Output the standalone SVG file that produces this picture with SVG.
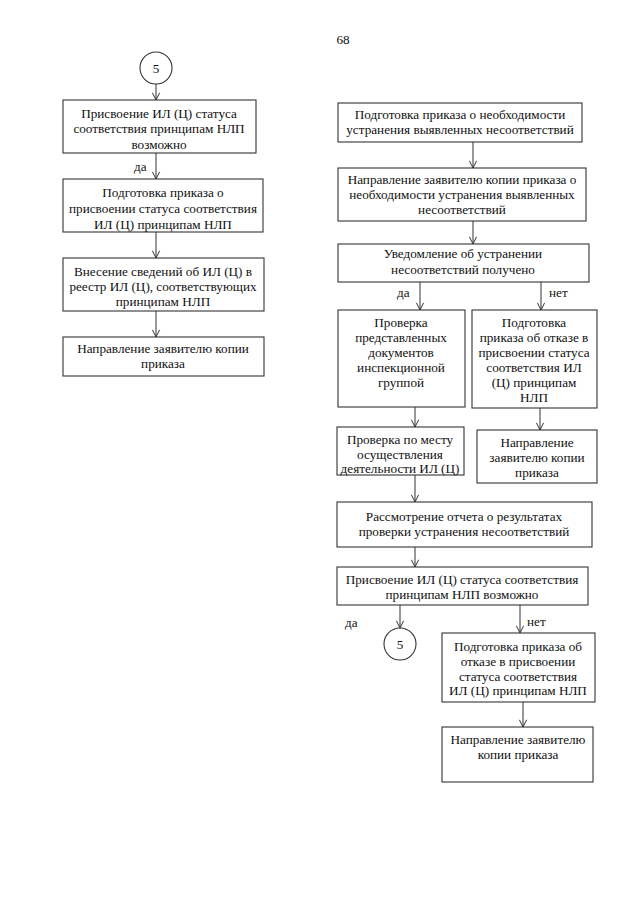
<svg xmlns="http://www.w3.org/2000/svg" width="640" height="905" viewBox="0 0 640 905" font-family="'Liberation Serif', 'Times New Roman', serif">
<defs>
<style>
text{font-family:'Liberation Serif','Times New Roman',serif;font-size:13.2px;fill:#111;text-anchor:middle}
.lbl{text-anchor:start}
rect,circle{fill:#fff;stroke:#333;stroke-width:1.1}
.c line{stroke:#333;stroke-width:1}
</style>
<marker id="a" viewBox="0 0 10 10" refX="9" refY="5" markerWidth="9" markerHeight="9" markerUnits="userSpaceOnUse" orient="auto">
<path d="M1,1 L9,5 L1,9" fill="none" stroke="#333" stroke-width="1.1"/>
</marker>
</defs>
<rect x="0" y="0" width="640" height="905" style="fill:#fff;stroke:none"/>
<text x="343" y="44">68</text>

<g class="c" id="connectors">
<line x1="156" y1="84" x2="156" y2="100" marker-end="url(#a)"/>
<line x1="156" y1="153" x2="156" y2="179" marker-end="url(#a)"/>
<line x1="156" y1="232" x2="156" y2="258" marker-end="url(#a)"/>
<line x1="156" y1="311" x2="156" y2="337" marker-end="url(#a)"/>
<line x1="473" y1="142" x2="473" y2="168" marker-end="url(#a)"/>
<line x1="473" y1="221" x2="473" y2="244" marker-end="url(#a)"/>
<line x1="420" y1="282" x2="420" y2="310" marker-end="url(#a)"/>
<line x1="541" y1="282" x2="541" y2="310" marker-end="url(#a)"/>
<line x1="415" y1="407" x2="415" y2="427" marker-end="url(#a)"/>
<line x1="540" y1="408" x2="540" y2="430" marker-end="url(#a)"/>
<line x1="415" y1="475" x2="415" y2="502" marker-end="url(#a)"/>
<line x1="415" y1="547" x2="415" y2="567" marker-end="url(#a)"/>
<line x1="400" y1="605" x2="400" y2="628" marker-end="url(#a)"/>
<line x1="520" y1="605" x2="520" y2="633" marker-end="url(#a)"/>
<line x1="523" y1="702" x2="523" y2="727" marker-end="url(#a)"/>
</g>
<g id="labels">
<text class="lbl" x="134" y="171">да</text>
<text class="lbl" x="397" y="297">да</text>
<text class="lbl" x="549" y="297">нет</text>
<text class="lbl" x="345" y="627">да</text>
<text class="lbl" x="527" y="626">нет</text>
</g>

<g id="conn5a"><circle cx="156" cy="68" r="16"/><text x="156" y="73">5</text></g>
<g id="L1"><rect x="63" y="100" width="193" height="53"/>
<text x="159" y="118">Присвоение ИЛ (Ц) статуса</text>
<text x="159" y="133">соответствия принципам НЛП</text>
<text x="159" y="149">возможно</text></g>
<g id="L2"><rect x="63" y="179" width="200" height="53"/>
<text x="163" y="197">Подготовка приказа о</text>
<text x="163" y="213">присвоении статуса соответствия</text>
<text x="163" y="229">ИЛ (Ц) принципам НЛП</text></g>
<g id="L3"><rect x="63" y="258" width="201" height="53"/>
<text x="163" y="276">Внесение сведений об ИЛ (Ц) в</text>
<text x="163" y="291">реестр ИЛ (Ц), соответствующих</text>
<text x="163" y="306">принципам НЛП</text></g>
<g id="L4"><rect x="63" y="337" width="201" height="39"/>
<text x="163" y="353">Направление заявителю копии</text>
<text x="163" y="368">приказа</text></g>

<g id="R1"><rect x="338" y="103" width="244" height="39"/>
<text x="460" y="119">Подготовка приказа о необходимости</text>
<text x="460" y="134">устранения выявленных несоответствий</text></g>
<g id="R2"><rect x="338" y="168" width="248" height="53"/>
<text x="462" y="184">Направление заявителю копии приказа о</text>
<text x="462" y="199">необходимости устранения выявленных</text>
<text x="462" y="214">несоответствий</text></g>
<g id="R3"><rect x="338" y="244" width="251" height="38"/>
<text x="463" y="258">Уведомление об устранении</text>
<text x="463" y="274">несоответствий получено</text></g>
<g id="R4"><rect x="338" y="310" width="127" height="97"/>
<text x="401" y="327">Проверка</text>
<text x="401" y="342">представленных</text>
<text x="401" y="357">документов</text>
<text x="401" y="372">инспекционной</text>
<text x="401" y="387">группой</text></g>
<g id="R5"><rect x="472" y="310" width="125" height="98"/>
<text x="534" y="327">Подготовка</text>
<text x="534" y="342">приказа об отказе в</text>
<text x="534" y="357">присвоении статуса</text>
<text x="534" y="372">соответствия ИЛ</text>
<text x="534" y="387">(Ц) принципам</text>
<text x="534" y="402">НЛП</text></g>
<g id="R6"><rect x="337" y="427" width="127" height="48"/>
<text x="400" y="444">Проверка по месту</text>
<text x="400" y="459">осуществления</text>
<text x="400" y="473">деятельности ИЛ (Ц)</text></g>
<g id="R7"><rect x="477" y="430" width="120" height="53"/>
<text x="537" y="447">Направление</text>
<text x="537" y="462">заявителю копии</text>
<text x="537" y="477">приказа</text></g>
<g id="R8"><rect x="337" y="502" width="255" height="45"/>
<text x="464" y="521">Рассмотрение отчета о результатах</text>
<text x="464" y="536">проверки устранения несоответствий</text></g>
<g id="R9"><rect x="337" y="567" width="251" height="38"/>
<text x="462" y="584">Присвоение ИЛ (Ц) статуса соответствия</text>
<text x="462" y="599">принципам НЛП возможно</text></g>
<g id="conn5b"><circle cx="400" cy="644" r="16"/><text x="400" y="649">5</text></g>
<g id="R10"><rect x="442" y="633" width="153" height="69"/>
<text x="518" y="651">Подготовка приказа об</text>
<text x="518" y="666">отказе в присвоении</text>
<text x="518" y="681">статуса соответствия</text>
<text x="518" y="695">ИЛ (Ц) принципам НЛП</text></g>
<g id="R11"><rect x="442" y="727" width="151" height="55"/>
<text x="518" y="744">Направление заявителю</text>
<text x="518" y="759">копии приказа</text></g>
</svg>
